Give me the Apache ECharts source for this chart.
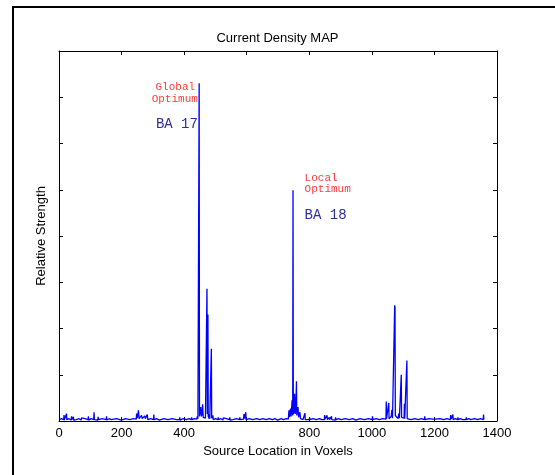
<!DOCTYPE html>
<html>
<head>
<meta charset="utf-8">
<script src="https://cdn.jsdelivr.net/npm/echarts@6/dist/echarts.min.js"></script>
<style>html,body{margin:0;padding:0;background:#fff;}#main{width:555px;height:475px;}</style>
</head>
<body>
<div id="main"></div>
<script>
var xTickLabels = [0, 200, 400, 800, 1000, 1200, 1400];
var voxels = [1,8,15,16,17,20,23,24,25,32,39,40,41,45,46,47,51,55,56,57,64,71,72,73,83,93,94,95,103,111,112,113,118,124,125,126,138,151,152,153,160,167,168,169,184,199,200,201,213,226,227,228,238,247,248,250,252,254,256,260,264,266,270,274,276,280,282,284,293,302,303,304,312,321,322,323,335,348,349,350,362,375,376,377,385,386,387,397,407,408,409,416,423,424,425,433,441,442,444,447,448,449,451,453,455,457,459,461,464,466,468,472,473,474,475,476,477,480,481,482,486,487,488,491,492,493,500,508,509,510,517,524,525,526,535,545,546,547,556,557,558,567,577,578,579,590,591,593,597,598,608,619,620,621,632,641,652,662,663,664,672,682,690,699,700,701,710,718,726,733,735,737,740,742,745,747,748,749,751,753,755,757,759,760,762,764,766,768,770,772,776,778,780,785,786,787,793,800,801,802,812,822,833,840,848,849,850,856,857,858,863,864,865,870,871,872,877,883,884,885,893,902,903,904,915,928,929,930,939,949,950,951,962,976,977,978,989,1001,1002,1003,1014,1024,1035,1045,1046,1047,1053,1054,1055,1060,1062,1064,1066,1072,1073,1074,1075,1084,1086,1088,1093,1094,1095,1103,1104,1105,1111,1112,1113,1118,1125,1126,1127,1138,1148,1158,1168,1169,1170,1182,1195,1196,1198,1200,1202,1206,1207,1218,1229,1240,1251,1252,1254,1259,1260,1267,1274,1275,1276,1283,1290,1291,1292,1301,1302,1303,1310,1317,1318,1319,1328,1338,1347,1356,1357,1358,1360];
var strength = [0.03,0.05,0.03,0.13,0.02,0.05,0.03,0.16,0.03,0.05,0.02,0.10,0.03,0.03,0.09,0.02,0.05,0.03,0.07,0.03,0.05,0.02,0.07,0.03,0.05,0.03,0.10,0.02,0.05,0.03,0.19,0.03,0.05,0.02,0.09,0.03,0.05,0.03,0.10,0.02,0.05,0.03,0.07,0.03,0.05,0.02,0.06,0.03,0.05,0.03,0.06,0.02,0.05,0.04,0.16,0.06,0.08,0.23,0.05,0.07,0.12,0.05,0.06,0.11,0.05,0.06,0.14,0.03,0.05,0.03,0.14,0.03,0.05,0.02,0.06,0.03,0.05,0.03,0.05,0.02,0.05,0.03,0.07,0.03,0.03,0.08,0.02,0.05,0.03,0.06,0.03,0.05,0.03,0.08,0.03,0.05,0.04,0.10,0.05,0.08,7.30,0.10,0.12,0.30,0.10,0.15,0.36,0.08,0.06,0.12,0.06,0.10,2.86,0.15,0.20,2.30,0.10,0.05,0.15,0.05,0.06,1.56,0.06,0.04,0.12,0.03,0.05,0.03,0.08,0.03,0.05,0.02,0.07,0.03,0.05,0.03,0.08,0.02,0.03,0.05,0.03,0.05,0.03,0.08,0.03,0.04,0.15,0.05,0.19,0.03,0.05,0.03,0.07,0.02,0.05,0.03,0.05,0.03,0.07,0.03,0.05,0.03,0.05,0.02,0.06,0.03,0.05,0.03,0.05,0.04,0.23,0.08,0.27,0.10,0.45,0.12,4.99,0.15,0.20,0.59,0.15,0.30,0.86,0.12,0.10,0.30,0.08,0.07,0.19,0.05,0.04,0.08,0.03,0.04,0.17,0.03,0.05,0.03,0.08,0.03,0.05,0.03,0.05,0.03,0.03,0.13,0.04,0.04,0.12,0.03,0.04,0.08,0.03,0.03,0.10,0.03,0.05,0.02,0.08,0.03,0.05,0.03,0.06,0.02,0.05,0.03,0.06,0.03,0.05,0.02,0.06,0.03,0.05,0.03,0.06,0.03,0.05,0.03,0.10,0.03,0.05,0.03,0.05,0.04,0.42,0.05,0.05,0.39,0.05,0.06,0.10,0.24,0.06,0.08,2.50,2.45,0.12,0.05,0.16,0.06,0.08,1.00,0.08,0.06,0.37,0.05,0.06,1.31,0.05,0.05,0.03,0.06,0.03,0.05,0.03,0.05,0.03,0.10,0.03,0.05,0.04,0.08,0.05,0.06,0.04,0.06,0.03,0.05,0.03,0.05,0.03,0.13,0.04,0.14,0.03,0.05,0.03,0.08,0.03,0.05,0.03,0.06,0.03,0.03,0.08,0.03,0.05,0.03,0.06,0.03,0.05,0.03,0.05,0.03,0.14,0.03,0.03];
var annoText  = ['Global', 'Optimum', 'BA 17', 'Local', 'Optimum', 'BA 18'];
var annoX     = [435, 444, 444, 785, 785, 785];
var annoY     = [7.23, 6.96, 6.41, 5.26, 5.01, 4.45];

var lineData = voxels.map(function (v, i) { return [v, strength[i]]; });
var chart = echarts.init(document.getElementById('main'), null, {renderer: 'canvas'});
var sans = 'Arial, "Liberation Sans", sans-serif';
var mono = '"Courier New", "Liberation Mono", monospace';
function xAxisBase(pos) {
  return {type: 'value', position: pos, min: 0, max: 1400, interval: 200,
    axisLine: {show: true, onZero: false, lineStyle: {color: '#000', width: 1}},
    axisTick: {show: true, inside: true, length: 4, lineStyle: {color: '#000'}},
    splitLine: {show: false}};
}
function yAxisBase(pos) {
  return {type: 'value', position: pos, min: 0, max: 8, interval: 1,
    axisLine: {show: true, onZero: false, lineStyle: {color: '#000', width: 1}},
    axisTick: {show: true, inside: true, length: 4, lineStyle: {color: '#000'}},
    axisLabel: {show: false}, splitLine: {show: false}};
}
var xBottom = xAxisBase('bottom');
xBottom.name = 'Source Location in Voxels';
xBottom.nameLocation = 'middle';
xBottom.nameGap = 22;
xBottom.nameTextStyle = {fontFamily: sans, fontSize: 13, color: '#000'};
xBottom.axisLabel = {show: true, margin: 6, color: '#000', fontFamily: sans, fontSize: 13,
  formatter: function (v) { return xTickLabels.indexOf(v) >= 0 ? String(v) : ''; }};
var xTop = xAxisBase('top');
xTop.axisLabel = {show: false};
var yLeft = yAxisBase('left');
yLeft.name = 'Relative Strength';
yLeft.nameLocation = 'middle';
yLeft.nameGap = 11;
yLeft.nameRotate = 90;
yLeft.nameTextStyle = {fontFamily: sans, fontSize: 13, color: '#000'};
var yRight = yAxisBase('right');

chart.setOption({
  animation: false,
  backgroundColor: '#fff',
  title: {text: 'Current Density MAP', left: 'center', top: 27,
    textStyle: {fontFamily: sans, fontSize: 13, fontWeight: 'normal', color: '#000'}},
  grid: {left: 59, top: 51, width: 438, height: 370, containLabel: false},
  xAxis: [xBottom, xTop],
  yAxis: [yLeft, yRight],
  series: [{
    type: 'line', data: lineData, xAxisIndex: 0, yAxisIndex: 0,
    symbol: 'none', lineStyle: {color: '#0000ff', width: 1.3}, itemStyle: {color: '#0000ff'}
  }]
});

var graphics = [
  {type: 'line', shape: {x1: 13, y1: 6, x2: 13, y2: 475}, style: {stroke: '#000', lineWidth: 2}},
  {type: 'line', shape: {x1: 12, y1: 7, x2: 555, y2: 7}, style: {stroke: '#000', lineWidth: 2}}
];
annoText.forEach(function (t, i) {
  var p = chart.convertToPixel({xAxisIndex: 0, yAxisIndex: 0}, [annoX[i], annoY[i]]);
  var isBA = t.indexOf('BA') === 0;
  graphics.push({type: 'text', x: p[0], y: p[1], style: {
    text: t, fill: isBA ? '#2e2e9e' : '#ff3b3b',
    font: (isBA ? '14px ' : '11px ') + mono,
    textAlign: i < 3 ? 'right' : 'left', textVerticalAlign: 'middle'
  }});
});
chart.setOption({graphic: graphics});
</script>
</body>
</html>
